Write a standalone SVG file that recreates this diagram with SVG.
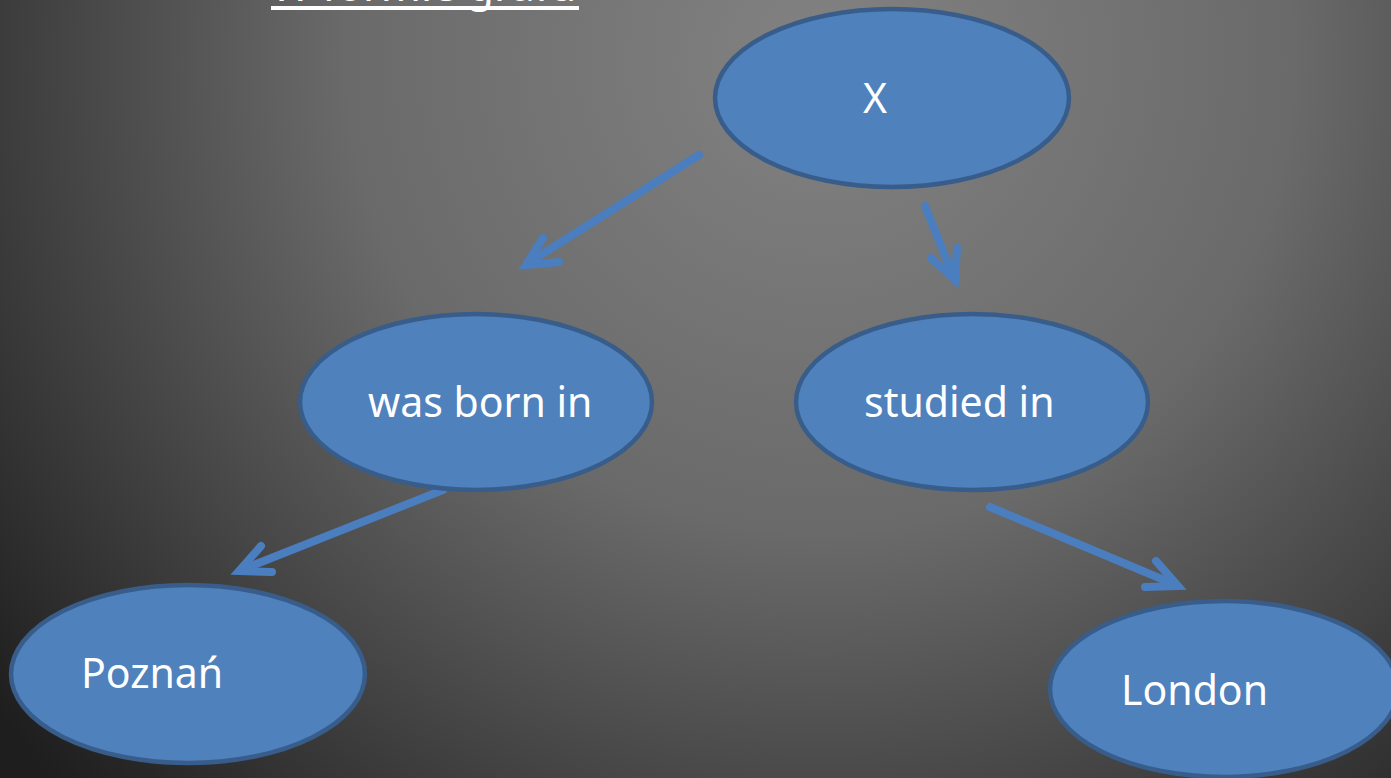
<svg xmlns="http://www.w3.org/2000/svg" width="1391" height="778" viewBox="0 0 1391 778">
<defs>
<radialGradient id="bg" gradientUnits="userSpaceOnUse" cx="820" cy="60" r="1050">
<stop offset="0" stop-color="#828282"/>
<stop offset="0.45" stop-color="#6a6a6a"/>
<stop offset="1" stop-color="#1e1e1e"/>
</radialGradient>
<style>
.node ellipse{fill:#4f81bd;stroke:#385d8a;stroke-width:4.5}
.node text{font-family:"Noto Sans","Open Sans",sans-serif;font-size:41px;fill:#ffffff}
.edge{fill:none;stroke:#4a7ebf;stroke-width:8;stroke-linecap:round;stroke-linejoin:miter}
.title{font-family:"Noto Sans","Open Sans",sans-serif;font-size:43px;fill:#ffffff}
</style>
</defs>
<rect width="1391" height="778" fill="url(#bg)"/>
<g id="title">
<text class="title" x="271" y="1">W formie grafu</text>
<rect x="271" y="6" width="308" height="4" fill="#ffffff"/>
</g>
<g id="connectors">
<line class="edge" x1="699" y1="155" x2="528" y2="263"/>
<polyline class="edge" points="543,238 526,265 559,262"/>
<line class="edge" x1="925" y1="206" x2="954" y2="278"/>
<polyline class="edge" points="931,258 955,280 957,248"/>
<line class="edge" x1="443" y1="490" x2="241" y2="570"/>
<polyline class="edge" points="261,546 239,571 272,572"/>
<line class="edge" x1="990" y1="507" x2="1176" y2="585"/>
<polyline class="edge" points="1156,561 1178,586 1145,587"/>
</g>
<g id="node-x" class="node">
<ellipse cx="892" cy="98" rx="177" ry="89"/>
<text x="863" y="113">X</text>
</g>
<g id="node-born" class="node">
<ellipse cx="476" cy="402" rx="176" ry="88"/>
<text x="368" y="417">was born in</text>
</g>
<g id="node-studied" class="node">
<ellipse cx="972" cy="402" rx="176" ry="88"/>
<text x="864" y="417">studied in</text>
</g>
<g id="node-poznan" class="node">
<ellipse cx="188" cy="674" rx="177" ry="89"/>
<text x="81" y="688">Poznań</text>
</g>
<g id="node-london" class="node">
<ellipse cx="1224" cy="689" rx="174" ry="88"/>
<text x="1121" y="705">London</text>
</g>
</svg>
